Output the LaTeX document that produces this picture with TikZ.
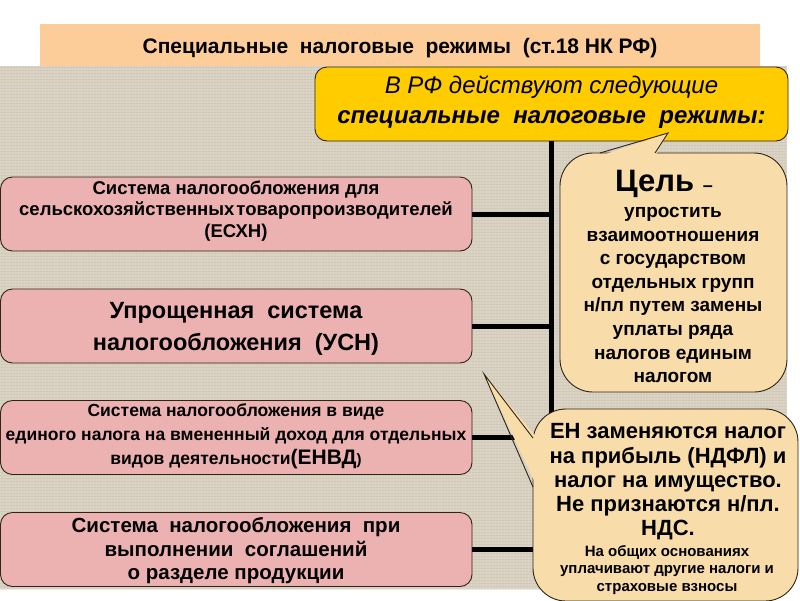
\documentclass[tikz,border=0pt]{standalone}
\usepackage{fontspec}
\setmainfont{Liberation Sans}
\definecolor{bgtex}{HTML}{D8D1C2}
\definecolor{texlight}{HTML}{E6E0D3}
\definecolor{texdark}{HTML}{C4BBA9}
\definecolor{peach}{HTML}{FCCC99}
\definecolor{pinkbox}{HTML}{ECB2B2}
\definecolor{yelbox}{HTML}{FFCC00}
\definecolor{sandy}{HTML}{F8DCAA}
\definecolor{edge}{HTML}{2E2418}
\tikzset{
  regime/.style={draw=edge, line width=0.9pt, fill=pinkbox, rounded corners=12pt,
    minimum width=471.5pt, minimum height=74pt, inner sep=0pt},
  rtext/.style={align=center, inner sep=0pt, text=black},
  conn/.style={line width=5pt, black},
  bubble/.style={draw=edge, line width=0.9pt, fill=sandy, rounded corners=33pt, inner sep=0pt},
}
\begin{document}
\begin{tikzpicture}[x=1pt,y=-1pt]
\useasboundingbox (0,0) rectangle (800,600);
% textured background
\fill[bgtex] (0,66) rectangle (787,589);
\begin{scope}
\clip (0,66) rectangle (787,589);
\foreach \i in {0,3,...,789} \draw[texlight, line width=0.8pt, opacity=0.35] (\i,66) -- (\i,589);
\foreach \j in {67,70,...,589} \draw[texdark, line width=0.7pt, opacity=0.3] (0,\j) -- (787,\j);
\end{scope}
% title band
\node[fill=peach, minimum width=720pt, minimum height=42pt, inner sep=0pt] (band) at (400,45) {};
\node[font=\bfseries\fontsize{21}{24}\selectfont, inner sep=0pt] (title) at (400,48.5)
  {Специальные\ \ налоговые\ \ режимы\ \ (ст.18 НК РФ)};
% yellow header box
\node[draw=edge, line width=0.9pt, fill=yelbox, rounded corners=12pt,
  minimum width=473pt, minimum height=74pt, inner sep=0pt] (head) at (551.5,104) {};
\node[rtext, font=\itshape\fontsize{24}{30}\selectfont] (headtxt) at (551.5,102)
  {В РФ действуют следующие\\ \textbf{специальные\ \ налоговые\ \ режимы:}};
% connector skeleton
\coordinate (vtop) at (551,141);
\coordinate (vbot) at (551,550);
% regime boxes
\node[regime] (b1) at (236.25,214) {};
\node[regime] (b2) at (236.25,326) {};
\node[regime] (b3) at (236.25,437.5) {};
\node[regime] (b4) at (236.25,549.5) {};
\draw[conn] (vtop) -- (vbot);
\foreach \b in {b1,b2,b3,b4} \draw[conn] (\b.east) -- (\b.east -| vtop);
\node[rtext, font=\bfseries\fontsize{18.5}{21.5}\selectfont] (t1) at (236,211)
  {Система налогообложения для\\ сельскохозяйственных\hspace{2pt}товаропроизводителей\\ (ЕСХН)};
\node[rtext, font=\bfseries\fontsize{23.5}{32}\selectfont] (t2) at (236,329)
  {Упрощенная\ \ система\\ налогообложения\ \ (УСН)};
\node[rtext, font=\bfseries\fontsize{17.5}{24}\selectfont] (t3) at (236,436)
  {Система налогообложения в виде\\ единого налога на вмененный доход для отдельных\\ видов деятельности{\fontsize{21}{24}\selectfont(ЕНВД}{\fontsize{15}{24}\selectfont)}};
\node[rtext, font=\bfseries\fontsize{20.5}{23.5}\selectfont] (t4) at (236,551)
  {Система\ \ налогообложения\ \ при\\ выполнении\ \ соглашений\\ о\ разделе\ продукции};
% goal bubble
\node[bubble, minimum width=227pt, minimum height=239pt] (goal) at (673.5,272.5) {};
\fill[sandy] (600,156) -- (668,133) -- (655,156) -- cycle;
\coordinate (gtip) at (668,133);
\draw[edge, line width=0.9pt] (600,153) -- (gtip) -- (655,153);
\node[rtext, font=\bfseries\fontsize{31}{32}\selectfont] (gtitle) at (664,184)
  {Цель {\fontsize{18}{20}\selectfont –}};
\node[rtext, font=\bfseries\fontsize{19}{23.6}\selectfont] (gtxt) at (673,295)
  {упростить\\ взаимоотношения\\ с государством\\ отдельных групп\\ н/пл путем замены\\ уплаты ряда\\ налогов единым\\ налогом};
% EN bubble
\node[bubble, minimum width=265pt, minimum height=192pt] (en) at (665.5,505) {};
\fill[sandy] (537,438) -- (484,374) -- (537,487) -- cycle;
\coordinate (etip) at (484,374);
\draw[edge, line width=0.9pt] (533,438) -- (etip) -- (533,487);
\node[rtext, font=\bfseries\fontsize{22}{24.3}\selectfont] (etxt) at (668,482)
  {ЕН заменяются налог\\ на прибыль (НДФЛ) и\\ налог на имущество.\\ Не признаются н/пл.\\ НДС.};
\node[rtext, font=\bfseries\fontsize{15}{17.5}\selectfont] (esmall) at (667,570)
  {На общих основаниях\\ уплачивают другие налоги и\\ страховые взносы};
\end{tikzpicture}
\end{document}
